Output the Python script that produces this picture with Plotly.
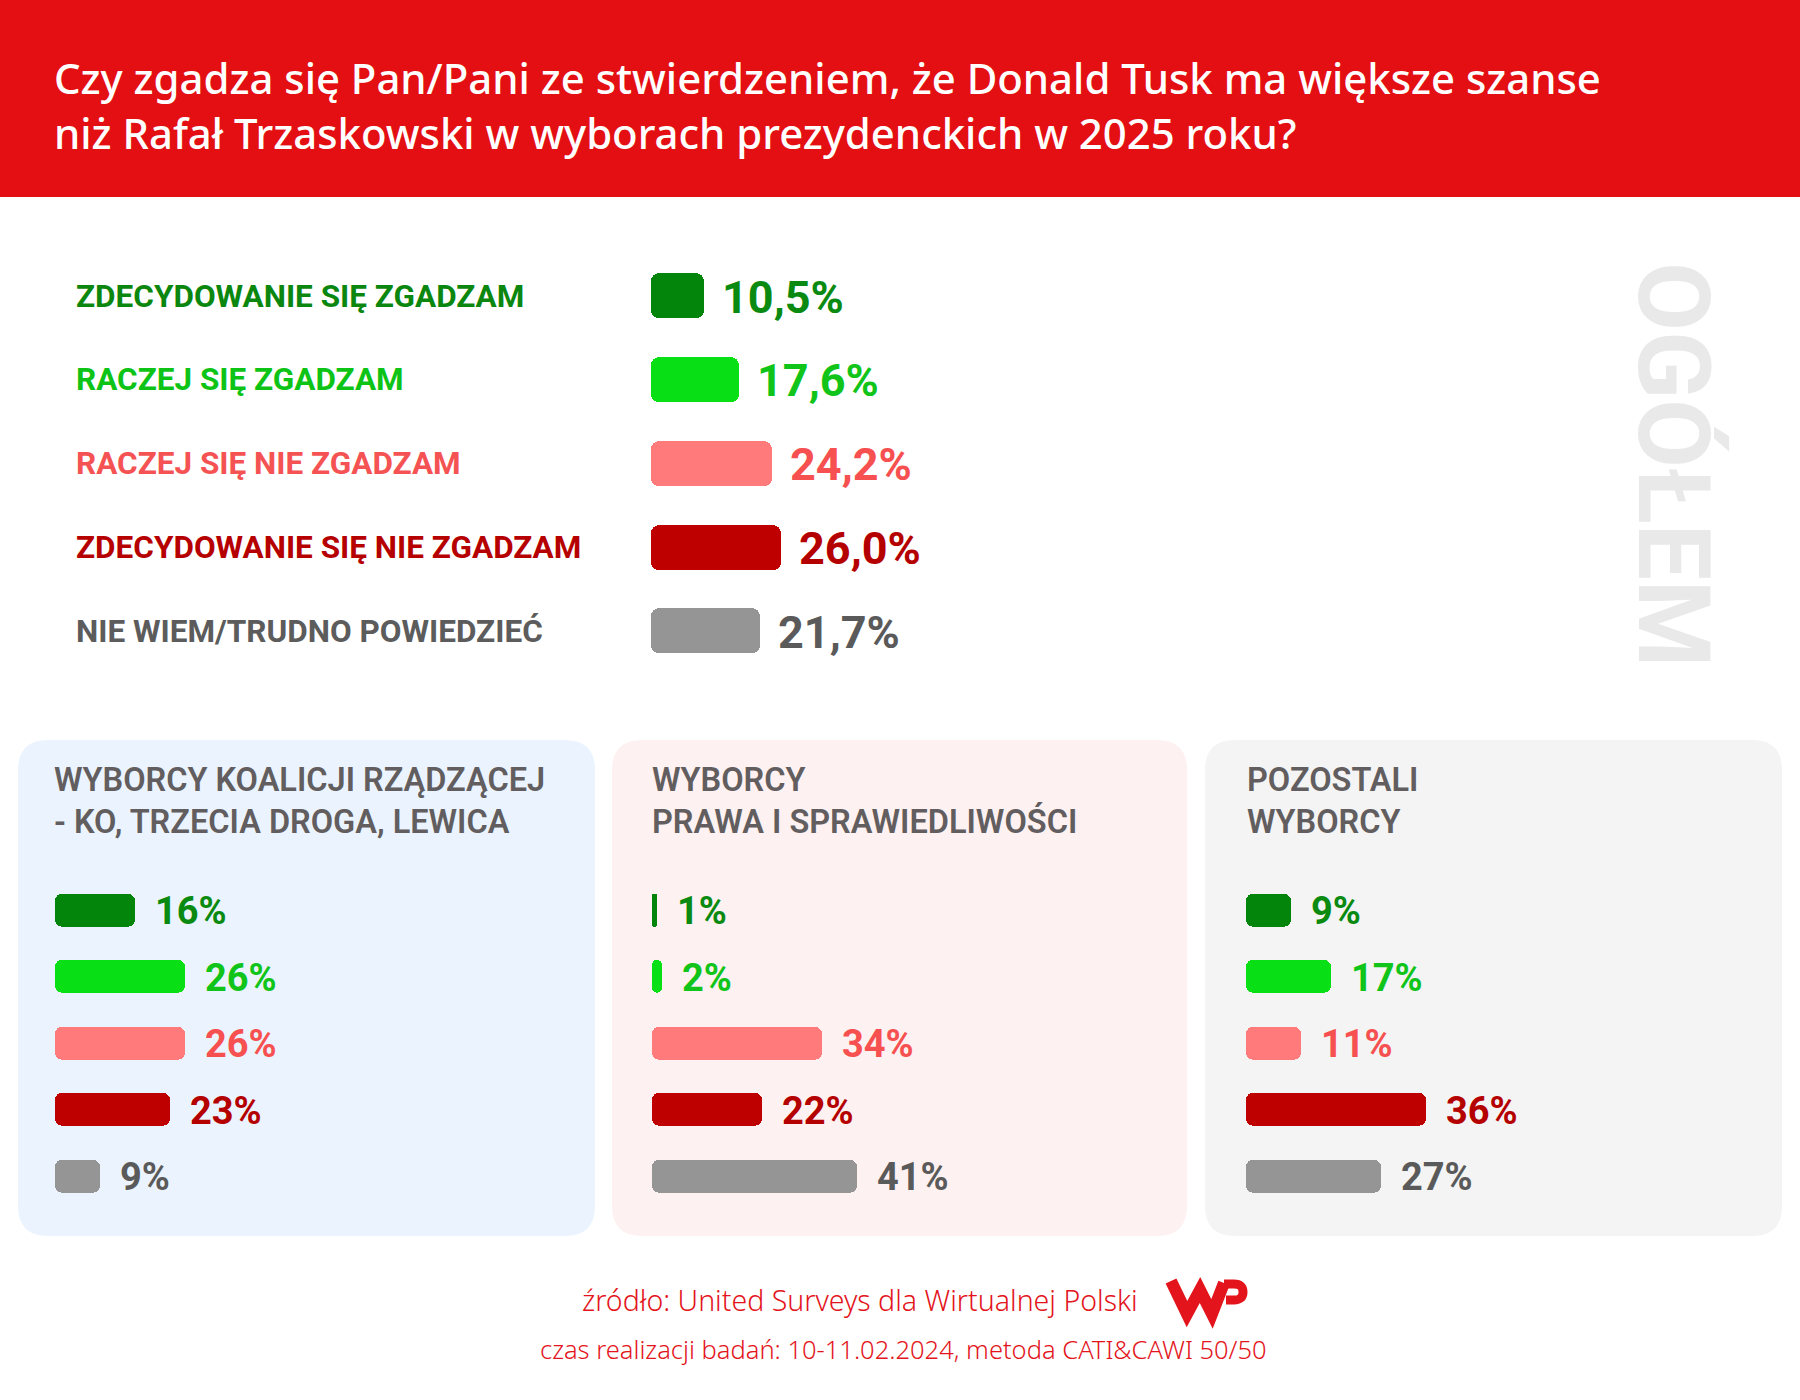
import plotly.graph_objects as go

# ---------------- data ----------------
categories = [
    "ZDECYDOWANIE SIĘ ZGADZAM",
    "RACZEJ SIĘ ZGADZAM",
    "RACZEJ SIĘ NIE ZGADZAM",
    "ZDECYDOWANIE SIĘ NIE ZGADZAM",
    "NIE WIEM/TRUDNO POWIEDZIEĆ",
]
overall = [10.5, 17.6, 24.2, 26.0, 21.7]
koalicja = [16, 26, 26, 23, 9]
pis = [1, 2, 34, 22, 41]
pozostali = [9, 17, 11, 36, 27]
group_titles = [
    "WYBORCY KOALICJI RZĄDZĄCEJ<br>- KO, TRZECIA DROGA, LEWICA",
    "WYBORCY<br>PRAWA I SPRAWIEDLIWOŚCI",
    "POZOSTALI<br>WYBORCY",
]
title_lines = [
    "Czy zgadza się Pan/Pani ze stwierdzeniem, że Donald Tusk ma większe szanse",
    "niż Rafał Trzaskowski w wyborach prezydenckich w 2025 roku?",
]
source_lines = [
    "źródło: United Surveys dla Wirtualnej Polski",
    "czas realizacji badań: 10-11.02.2024, metoda CATI&CAWI 50/50",
]
side_label = "OGÓŁEM"

# ---------------- style ----------------
W, H = 1800, 1400
bar_colors = ["#03850C", "#08E015", "#FF7B7B", "#BE0000", "#959595"]
text_colors = ["#0A8A10", "#10C41A", "#F75050", "#B50000", "#5A5A5A"]
label_colors = ["#0B870F", "#0DC416", "#F55353", "#B60000", "#5C5C5C"]
panel_colors = ["#EBF4FE", "#FEF1F1", "#F4F4F4"]
RED = "#E30F13"
PX_PER_PCT = 5.0
XR = 100


def px(x):
    return x / W


def py(y):
    return 1 - y / H


def rrect(x0, y0, x1, y1, r):
    pts = [
        ("M", [(x0 + r, y0)]),
        ("L", [(x1 - r, y0)]),
        ("Q", [(x1, y0), (x1, y0 + r)]),
        ("L", [(x1, y1 - r)]),
        ("Q", [(x1, y1), (x1 - r, y1)]),
        ("L", [(x0 + r, y1)]),
        ("Q", [(x0, y1), (x0, y1 - r)]),
        ("L", [(x0, y0 + r)]),
        ("Q", [(x0, y0), (x0 + r, y0)]),
    ]
    s = ""
    for cmd, ps in pts:
        s += cmd + " " + " ".join(f"{px(a):.5f},{py(b):.5f}" for a, b in ps) + " "
    return s + "Z"


fig = go.Figure()
annotations = []
shapes = []

sections = [
    dict(vals=overall, x0=651, yc0=296, pitch=83.75, bh=45, fs=45,
         labels=[f"{v:.1f}".replace(".", ",") + "%" for v in overall], r=8, gap=16),
    dict(vals=koalicja, x0=55, yc0=910, pitch=66.5, bh=33, fs=38,
         labels=[f"{v}%" for v in koalicja], r=7, gap=18),
    dict(vals=pis, x0=652, yc0=910, pitch=66.5, bh=33, fs=38,
         labels=[f"{v}%" for v in pis], r=7, gap=18),
    dict(vals=pozostali, x0=1246, yc0=910, pitch=66.5, bh=33, fs=38,
         labels=[f"{v}%" for v in pozostali], r=7, gap=18),
]

layout_axes = {}
for k, sec in enumerate(sections):
    idx = "" if k == 0 else str(k + 1)
    xa, ya = "x" + idx, "y" + idx
    n = len(sec["vals"])
    top = sec["yc0"] - sec["pitch"] / 2
    bot = top + sec["pitch"] * n
    layout_axes["xaxis" + idx] = dict(
        domain=[px(sec["x0"]), px(sec["x0"] + XR * PX_PER_PCT)], range=[0, XR],
        visible=False, fixedrange=True, anchor=ya)
    layout_axes["yaxis" + idx] = dict(
        domain=[py(bot), py(top)], range=[n - 0.5, -0.5],
        visible=False, fixedrange=True, anchor=xa)
    # explicit base -> floating bars, rounded at both ends
    fig.add_trace(go.Bar(
        x=sec["vals"], base=[0] * n, y=list(range(n)), orientation="h",
        marker=dict(color=bar_colors, cornerradius=sec["r"], line=dict(width=0)),
        width=sec["bh"] / sec["pitch"], xaxis=xa, yaxis=ya,
        hoverinfo="skip", showlegend=False, cliponaxis=False,
    ))
    for i, (v, lab) in enumerate(zip(sec["vals"], sec["labels"])):
        annotations.append(dict(
            x=v, y=i, xref=xa, yref=ya, xanchor="left", yanchor="middle",
            xshift=sec["gap"], yshift=-1, text=lab, showarrow=False,
            font=dict(family="Roboto", size=sec["fs"], color=text_colors[i], weight="bold"),
        ))

# category labels (top section)
for i, c in enumerate(categories):
    annotations.append(dict(
        x=px(74), y=py(296 + 83.75 * i), xref="paper", yref="paper",
        xanchor="left", yanchor="middle", text=c, showarrow=False,
        font=dict(family="Roboto", size=31.5, color=label_colors[i], weight="bold"),
    ))

# header
shapes.append(dict(type="rect", xref="paper", yref="paper", x0=0, x1=1,
                   y0=py(197), y1=1, fillcolor=RED, line=dict(width=0), layer="below"))
for j, t in enumerate(title_lines):
    annotations.append(dict(
        x=px(52), y=py(77 + 55 * j), xref="paper", yref="paper",
        xanchor="left", yanchor="middle", text=t, showarrow=False,
        font=dict(family="Noto Sans", size=41.9, color="white", weight=500),
    ))

# side label
annotations.append(dict(
    x=px(1673), y=py(465), xref="paper", yref="paper", xanchor="center",
    yanchor="middle", text=side_label, textangle=90, showarrow=False,
    font=dict(family="Roboto", size=100, color="#E9E9E9", weight="bold"),
))

# panels
panel_x = [(18, 595), (612, 1187), (1205, 1782)]
title_x = [52, 650, 1245]
for p, ((a, b), col) in enumerate(zip(panel_x, panel_colors)):
    shapes.append(dict(type="path", xref="paper", yref="paper",
                       path=rrect(a, 740, b, 1236, 30), fillcolor=col,
                       line=dict(width=0), layer="below"))
    annotations.append(dict(
        x=px(title_x[p]), y=py(801), xref="paper", yref="paper",
        xanchor="left", yanchor="middle", align="left", text=group_titles[p],
        showarrow=False,
        font=dict(family="Roboto", size=32.5, color="#625E5F", weight=600),
    ))

# footer
annotations.append(dict(
    x=px(1140), y=py(1300), xref="paper", yref="paper", xanchor="right",
    yanchor="middle", text=source_lines[0], showarrow=False,
    font=dict(family="Noto Sans", size=28.5, color="#E3141B", weight=300),
))
annotations.append(dict(
    x=px(903), y=py(1349), xref="paper", yref="paper", xanchor="center",
    yanchor="middle", text=source_lines[1], showarrow=False,
    font=dict(family="Noto Sans", size=25.5, color="#E3141B", weight=300),
))


# WP logo (decorative path)
def pth(points, cmds):
    s = ""
    for cmd, (a, b) in zip(cmds, points):
        s += f"{cmd} {px(a):.5f},{py(b):.5f} "
    return s


logo_w = pth([(1171, 1281), (1187, 1314), (1200, 1290), (1212, 1314), (1224, 1283)],
             ["M", "L", "L", "L", "L"])
shapes.append(dict(type="path", xref="paper", yref="paper", path=logo_w,
                   line=dict(color="#E3141B", width=12)))
logo_p = (f"M {px(1224):.5f},{py(1284):.5f} L {px(1234):.5f},{py(1284):.5f} "
          f"Q {px(1243):.5f},{py(1284):.5f} {px(1243):.5f},{py(1292):.5f} "
          f"Q {px(1243):.5f},{py(1300):.5f} {px(1234):.5f},{py(1300):.5f} "
          f"L {px(1226):.5f},{py(1300):.5f}")
shapes.append(dict(type="path", xref="paper", yref="paper", path=logo_p,
                   line=dict(color="#E3141B", width=9)))

fig.update_layout(
    width=W, height=H, margin=dict(l=0, r=0, t=0, b=0),
    paper_bgcolor="white", plot_bgcolor="rgba(0,0,0,0)",
    annotations=annotations, shapes=shapes, barmode="overlay", bargap=0,
    showlegend=False, **layout_axes,
)

fig.write_html("out.html", config={"displayModeBar": False},
               post_script="document.body.style.margin='0';")
